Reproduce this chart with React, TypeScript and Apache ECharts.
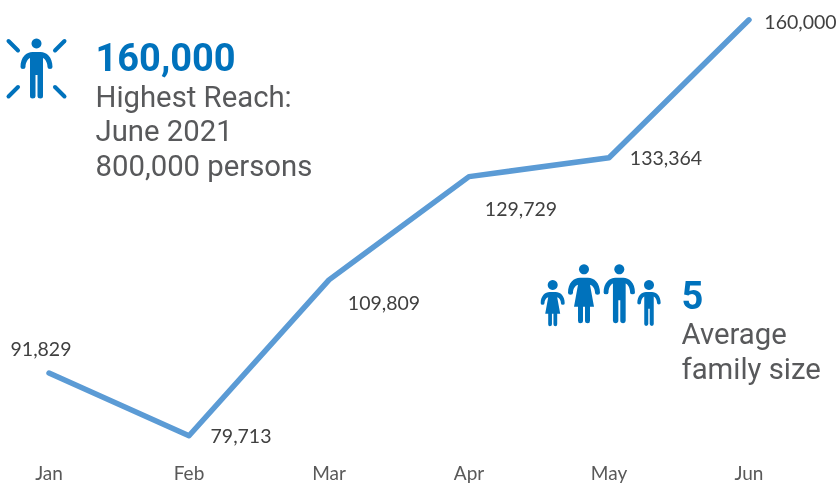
import React, { useEffect, useRef } from "react";
import * as echarts from "echarts";

const categories = ["Jan", "Feb", "Mar", "Apr", "May", "Jun"];
const reach = [91829, 79713, 109809, 129729, 133364, 160000];
const labelOffsets: [number, number][] = [[-8, -24.8], [52, 0.2], [55, 22.2], [52, 32.2], [57, -0.8], [51.5, 1.2]];

const BLUE = "#0072BC";
const GREY = "#58595B";

const manPath =
  "M-16,15 C-16,5 -10,0 -4,0 L4,0 C10,0 16,5 16,15 Q16,17 13.5,17 Q11,17 11,15 C11,11 9,7 6.5,6 L6.5,44 Q6.5,46.5 4,46.5 Q1,46.5 1,44 L1,23 L-1,23 L-1,44 Q-1,46.5 -4,46.5 Q-6.5,46.5 -6.5,44 L-6.5,6 C-9,7 -11,11 -11,15 Q-11,17 -13.5,17 Q-16,17 -16,15 Z";
const womanPath =
  "M-16,15 C-16,5 -10,0 -4,0 L4,0 C10,0 16,5 16,15 Q16,17 13.5,17 Q11,17 11,15 C11,11 9,8 6,7 L10,29 L6,29 L6,43 Q6,45.5 3.8,45.5 Q1,45.5 1,43 L1,29 L-1,29 L-1,43 Q-1,45.5 -3.8,45.5 Q-6,45.5 -6,43 L-6,29 L-10,29 L-6,7 C-9,8 -11,11 -11,15 Q-11,17 -13.5,17 Q-16,17 -16,15 Z";
echarts.graphic.registerShape("manIcon", echarts.graphic.extendPath(manPath as any, {}) as any);
echarts.graphic.registerShape("womanIcon", echarts.graphic.extendPath(womanPath as any, {}) as any);

const person = (type: string, x: number, top: number, scale: number, headY: number, r: number) => [
  { type: "circle", shape: { cx: x, cy: headY, r }, style: { fill: BLUE } },
  { type, x, y: top, scaleX: scale, scaleY: scale, style: { fill: BLUE } },
];
const ray = (x1: number, y1: number, x2: number, y2: number) => ({
  type: "line",
  shape: { x1, y1, x2, y2 },
  style: { stroke: BLUE, lineWidth: 4, lineCap: "round" },
});
const text = (x: number, y: number, t: string, size: number, fill: string, weight = 400) => ({
  type: "text",
  x,
  y,
  style: { text: t, fill, font: `${weight} ${size}px Roboto`, textAlign: "left", textVerticalAlign: "middle" },
});

export default function App() {
  const ref = useRef<HTMLDivElement>(null);
  useEffect(() => {
    const chart = echarts.init(ref.current!, undefined, { renderer: "svg" });
    chart.setOption({
      animation: false,
      grid: { left: -21, width: 840, top: -6.1, height: 466.3, outerBoundsMode: "none" },
      xAxis: {
        type: "category",
        data: categories,
        axisLine: { show: false },
        axisTick: { show: false },
        axisLabel: { color: "#595959", fontFamily: "Lato", fontSize: 19, margin: 3 },
      },
      yAxis: { type: "value", min: 75000, max: 165000, show: false, splitLine: { show: false } },
      series: [
        {
          type: "line",
          data: reach.map((value, i) => ({
            value,
            label: { offset: labelOffsets[i] },
          })),
          symbol: "circle",
          symbolSize: 1,
          clip: false,
          itemStyle: { color: "#5B9BD5" },
          lineStyle: { color: "#5B9BD5", width: 5.5, cap: "round", join: "round" },
          label: {
            show: true,
            position: "inside",
            align: "center",
            verticalAlign: "middle",
            color: "#404040",
            fontFamily: "Lato",
            fontSize: 19.5,
            formatter: (p: any) => Number(p.value).toLocaleString("en-US"),
          },
        },
      ],
      graphic: {
        elements: [
          ray(8.5, 41, 18, 50.5),
          ray(55, 50.5, 64.5, 41),
          ray(8.5, 96.5, 18, 87),
          ray(55, 87, 64.5, 96.5),
          ...person("manIcon", 36.5, 52, 1, 43.5, 5),
          ...person("womanIcon", 584, 277.7, 1, 269.3, 5),
          ...person("manIcon", 619.3, 277.7, 0.98, 269.3, 5),
          ...person("womanIcon", 552.7, 292, 0.75, 285, 5),
          ...person("manIcon", 649, 292, 0.73, 285, 5),
          text(95.5, 58, "160,000", 38, BLUE, 700),
          text(95.5, 97, "Highest Reach:", 29.3, GREY),
          text(95.5, 131, "June 2021", 29.3, GREY),
          text(95.5, 166, "800,000 persons", 29.3, GREY),
          text(681.5, 296, "5", 38, BLUE, 700),
          text(681.5, 334, "Average", 29.3, GREY),
          text(681.5, 369, "family size", 29.3, GREY),
        ],
      },
    });
    return () => chart.dispose();
  }, []);
  return <div ref={ref} style={{ position: "fixed", left: 0, top: 0, width: 839, height: 487 }} />;
}
